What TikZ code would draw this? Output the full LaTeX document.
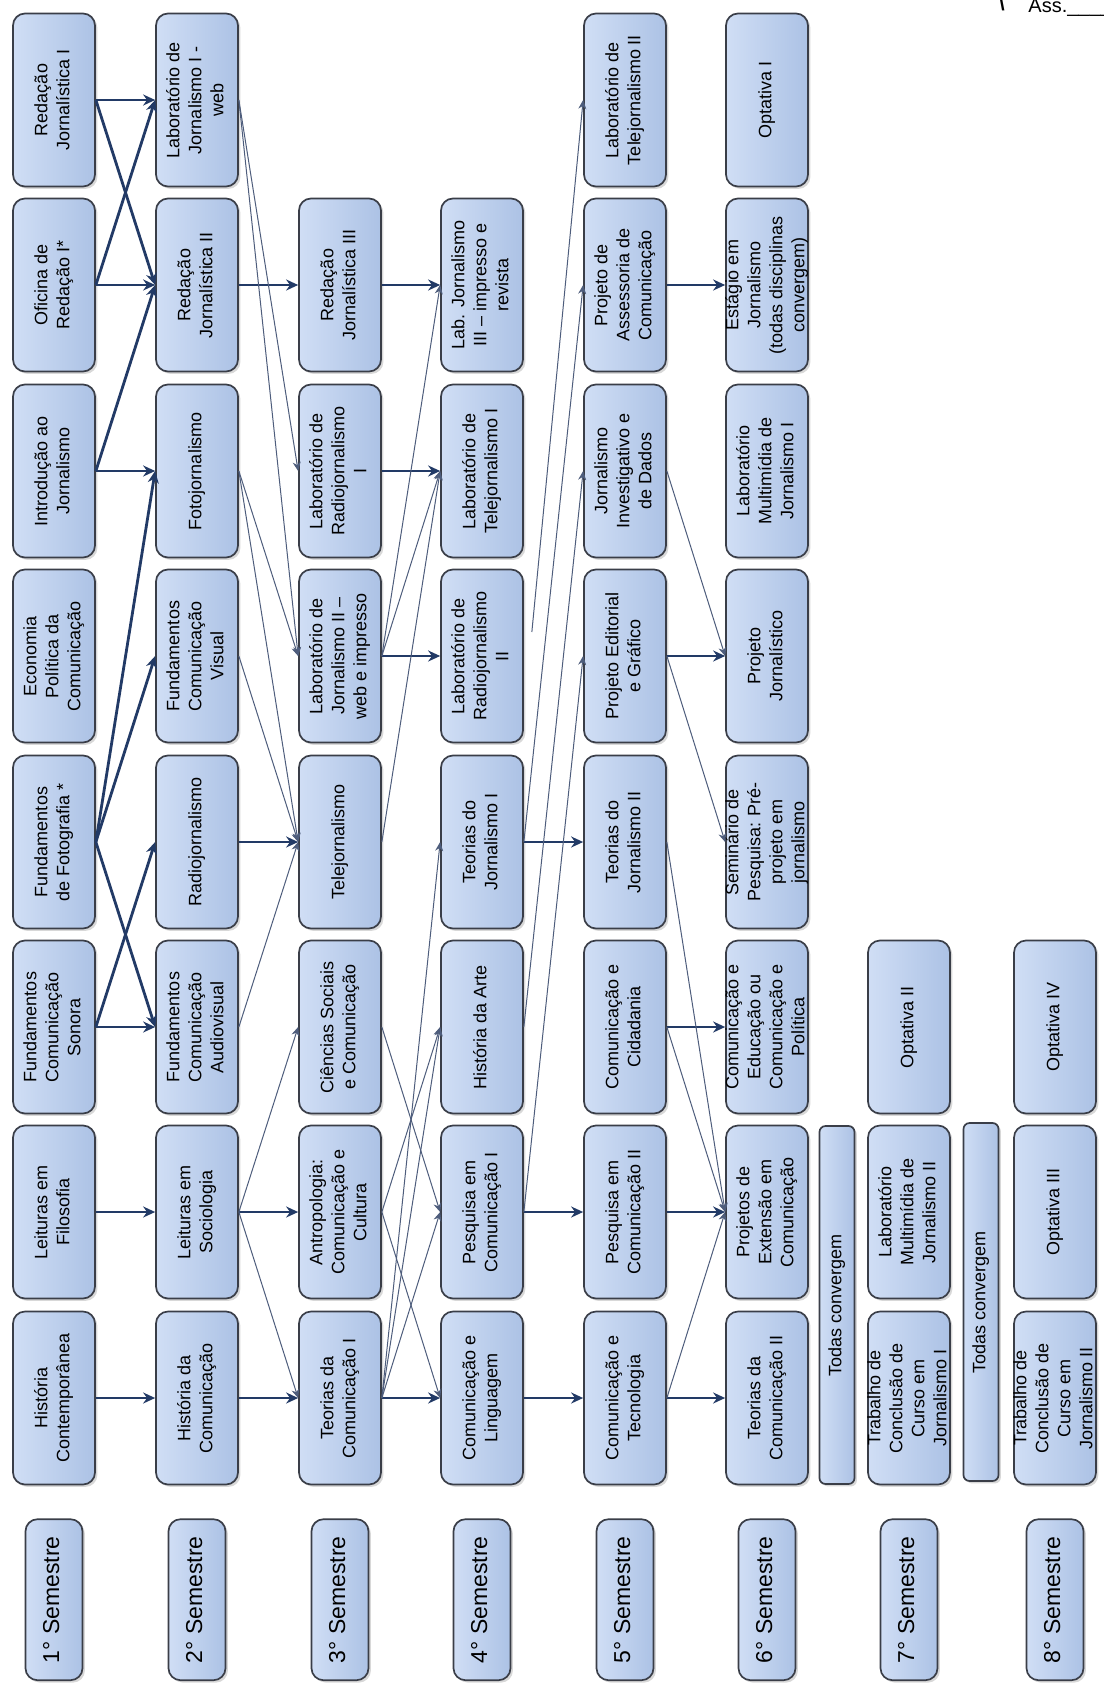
\documentclass[tikz,border=0pt]{standalone}
\usepackage{fontspec}
\setmainfont{Liberation Sans}
\usepackage{graphicx}
\usepackage{xcolor}
\usetikzlibrary{
	arrows.meta,
	positioning,
	shadows
}

\definecolor{boxlight}{RGB}{208,222,245}
\definecolor{boxdark}{RGB}{172,194,229}
\definecolor{boxedge}{RGB}{58,62,72}
\definecolor{linkblue}{RGB}{34,58,102}
\definecolor{thinblue}{RGB}{78,93,124}

\newcommand{\vtext}[1]{\makebox[0pt]{\rotatebox{90}{\begin{tabular}{@{}c@{}}#1\end{tabular}}}}

\begin{document}
\begin{tikzpicture}[
		x=0.5pt, y=-0.5pt,
		disciplina/.style={
			draw=boxedge,
			line width=0.85pt,
			rounded corners=6pt,
			left color=boxlight,
			right color=boxdark,
			drop shadow={shadow xshift=1.2pt, shadow yshift=-1.2pt, opacity=0.3},
			minimum width=41pt,
			minimum height=86.5pt,
			inner sep=0pt,
			font=\fontsize{9}{11}\selectfont
		},
		semestre/.style={
			disciplina,
			minimum width=28.5pt,
			minimum height=80.5pt,
			font=\fontsize{11.5}{13}\selectfont
		},
		convbar/.style={
			disciplina,
			rounded corners=3pt,
			minimum width=17.5pt,
			minimum height=179pt
		},
		link/.style={
			-{Stealth[length=6pt,width=5.5pt]},
			draw=linkblue,
			line width=1.4pt
		},
		thinlink/.style={
			-{Stealth[length=4.5pt,width=4pt]},
			draw=thinblue,
			line width=0.5pt
		}
		]
		
		\path[use as bounding box, fill=white] (0,0) rectangle (1103,1685);
		
		% 1o semestre
		\node[disciplina] (redI)     at (54,100)  {\vtext{Redação\\Jornalística I}};
		\node[disciplina] (oficina)  at (54,285)  {\vtext{Oficina de\\Redação I*}};
		\node[disciplina] (intro)    at (54,471)  {\vtext{Introdução ao\\Jornalismo}};
		\node[disciplina] (econ)     at (54,656)  {\vtext{Economia\\Política da\\Comunicação}};
		\node[disciplina] (fundfoto) at (54,842)  {\vtext{Fundamentos\\de Fotografia *}};
		\node[disciplina] (fundson)  at (54,1027) {\vtext{Fundamentos\\Comunicação\\Sonora}};
		\node[disciplina] (leitfil)  at (54,1212) {\vtext{Leituras em\\Filosofia}};
		\node[disciplina] (histcont) at (54,1398) {\vtext{História\\Contemporânea}};
		
		% 2o semestre
		\node[disciplina] (labjI)    at (197,100)  {\vtext{Laboratório de\\Jornalismo I -\\web}};
		\node[disciplina] (redII)    at (197,285)  {\vtext{Redação\\Jornalística II}};
		\node[disciplina] (foto)     at (197,471)  {\vtext{Fotojornalismo}};
		\node[disciplina] (fundvis)  at (197,656)  {\vtext{Fundamentos\\Comunicação\\Visual}};
		\node[disciplina] (radio)    at (197,842)  {\vtext{Radiojornalismo}};
		\node[disciplina] (fundav)   at (197,1027) {\vtext{Fundamentos\\Comunicação\\Audiovisual}};
		\node[disciplina] (leitsoc)  at (197,1212) {\vtext{Leituras em\\Sociologia}};
		\node[disciplina] (histcom)  at (197,1398) {\vtext{História da\\Comunicação}};
		
		% 3o semestre
		\node[disciplina] (redIII)   at (340,285)  {\vtext{Redação\\Jornalística III}};
		\node[disciplina] (labradI)  at (340,471)  {\vtext{Laboratório de\\Radiojornalismo\\I}};
		\node[disciplina] (labjII)   at (340,656)  {\vtext{Laboratório de\\Jornalismo II –\\web e impresso}};
		\node[disciplina] (tele)     at (340,842)  {\vtext{Telejornalismo}};
		\node[disciplina] (cienc)    at (340,1027) {\vtext{Ciências Sociais\\e Comunicação}};
		\node[disciplina] (antro)    at (340,1212) {\vtext{Antropologia:\\Comunicação e\\Cultura}};
		\node[disciplina] (teorcI)   at (340,1398) {\vtext{Teorias da\\Comunicação I}};
		
		% 4o semestre
		\node[disciplina] (labjIII)  at (482,285)  {\vtext{Lab. Jornalismo\\III – impresso e\\revista}};
		\node[disciplina] (labteleI) at (482,471)  {\vtext{Laboratório de\\Telejornalismo I}};
		\node[disciplina] (labradII) at (482,656)  {\vtext{Laboratório de\\Radiojornalismo\\II}};
		\node[disciplina] (teorjI)   at (482,842)  {\vtext{Teorias do\\Jornalismo I}};
		\node[disciplina] (histarte) at (482,1027) {\vtext{História da Arte}};
		\node[disciplina] (pesqI)    at (482,1212) {\vtext{Pesquisa em\\Comunicação I}};
		\node[disciplina] (comling)  at (482,1398) {\vtext{Comunicação e\\Linguagem}};
		
		% 5o semestre
		\node[disciplina] (labteleII) at (625,100)  {\vtext{Laboratório de\\Telejornalismo II}};
		\node[disciplina] (assess)    at (625,285)  {\vtext{Projeto de\\Assessoria de\\Comunicação}};
		\node[disciplina] (jorninv)   at (625,471)  {\vtext{Jornalismo\\Investigativo e\\de Dados}};
		\node[disciplina] (projed)    at (625,656)  {\vtext{Projeto Editorial\\e Gráfico}};
		\node[disciplina] (teorjII)   at (625,842)  {\vtext{Teorias do\\Jornalismo II}};
		\node[disciplina] (comcid)    at (625,1027) {\vtext{Comunicação e\\Cidadania}};
		\node[disciplina] (pesqII)    at (625,1212) {\vtext{Pesquisa em\\Comunicação II}};
		\node[disciplina] (comtec)    at (625,1398) {\vtext{Comunicação e\\Tecnologia}};
		
		% 6o semestre
		\node[disciplina] (optI)      at (767,100)  {\vtext{Optativa I}};
		\node[disciplina] (estagio)   at (767,285)  {\vtext{Estágio em\\Jornalismo\\(todas disciplinas\\convergem)}};
		\node[disciplina] (labmultI)  at (767,471)  {\vtext{Laboratório\\Multimídia de\\Jornalismo I}};
		\node[disciplina] (projjorn)  at (767,656)  {\vtext{Projeto\\Jornalístico}};
		\node[disciplina] (seminario) at (767,842)  {\vtext{Seminário de\\Pesquisa: Pré-\\projeto em\\jornalismo}};
		\node[disciplina] (comedu)    at (767,1027) {\vtext{Comunicação e\\Educação ou\\Comunicação e\\Política}};
		\node[disciplina] (extensao)  at (767,1212) {\vtext{Projetos de\\Extensão em\\Comunicação}};
		\node[disciplina] (teorcII)   at (767,1398) {\vtext{Teorias da\\Comunicação II}};
		
		% 7o e 8o semestres
		\node[disciplina] (optII)     at (909,1027) {\vtext{Optativa II}};
		\node[disciplina] (labmultII) at (909,1212) {\vtext{Laboratório\\Multimídia de\\Jornalismo II}};
		\node[disciplina] (tccI)      at (909,1398) {\vtext{Trabalho de\\Conclusão de\\Curso em\\Jornalismo I}};
		\node[disciplina] (optIV)     at (1055,1027) {\vtext{Optativa IV}};
		\node[disciplina] (optIII)    at (1055,1212) {\vtext{Optativa III}};
		\node[disciplina] (tccII)     at (1055,1398) {\vtext{Trabalho de\\Conclusão de\\Curso em\\Jornalismo II}};
		
		\node[convbar] (todasA) at (837,1305) {\vtext{Todas convergem}};
		\node[convbar] (todasB) at (981,1302) {\vtext{Todas convergem}};
		
		% Semestres
		\foreach \n [count=\i] in {histcont,histcom,teorcI,comling,comtec,teorcII,tccI,tccII}
		\node[semestre, below=16.5pt of \n] (sem\i) {\vtext{\i° Semestre}};
		
		% Connections
		\foreach \a/\b in {redI/labjI, redI/redII, oficina/labjI, oficina/redII,
			intro/redII, intro/foto, fundfoto/foto, fundfoto/fundvis, fundfoto/fundav,
			fundson/radio, fundson/fundav, leitfil/leitsoc, histcont/histcom,
			redII/redIII, radio/tele, leitsoc/antro, histcom/teorcI,
			redIII/labjIII, labradI/labteleI, labjII/labradII, teorcI/comling,
			teorjI/teorjII, pesqI/pesqII, comling/comtec,
			assess/estagio, projed/projjorn, comcid/comedu, pesqII/extensao, comtec/teorcII}
		\draw[link] (\a.east) -- (\b.west);
		
		\foreach \a/\b in {labjI/labradI, labjI/labjII, foto/labjII, foto/tele,
			fundvis/tele, fundav/tele, leitsoc/cienc, leitsoc/teorcI,
			labjII/labjIII, labjII/labteleI, tele/labteleI, cienc/pesqI,
			antro/histarte, antro/comling, teorcI/teorjI, teorcI/histarte, teorcI/pesqI,
			teorjI/assess, histarte/jorninv, pesqI/projed,
			jorninv/projjorn, projed/seminario, teorjII/extensao, comcid/extensao, comtec/extensao}
		\draw[thinlink] (\a.east) -- (\b.west);
		
		\coordinate (telestart) at ([shift={(8,-24)}]labradII.east);
		\draw[thinlink] (telestart) -- (labteleII.west);
		
		\node[anchor=base, inner sep=0pt, font=\fontsize{10}{12}\selectfont\bfseries] (barra) at (1002,11) {\textbackslash};
		\node[anchor=base west, inner sep=0pt, font=\fontsize{10}{12}\selectfont] (ass) at (1028,13) {Ass.\_\_\_\_\_\_};
		
	\end{tikzpicture}
\end{document}
